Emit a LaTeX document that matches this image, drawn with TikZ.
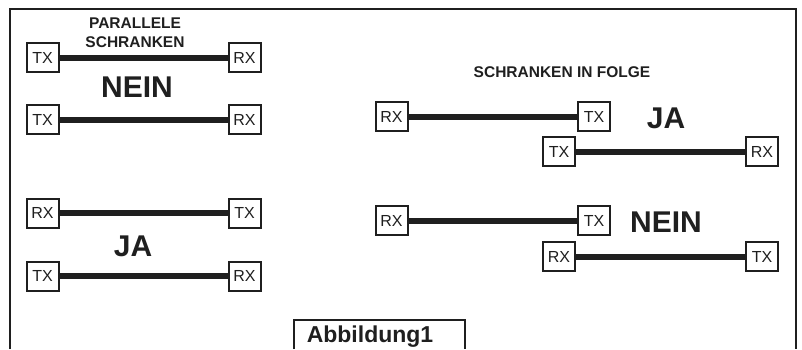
\documentclass[tikz,border=0pt]{standalone}
\usepackage{fontspec}
\setmainfont{Liberation Sans}
\begin{document}
\begin{tikzpicture}[x=1pt,y=-1pt,
  ink/.style={draw=black!88},
  unit/.style={ink,line width=2pt,fill=white,minimum width=32pt,minimum height=29pt,inner sep=0pt,font=\fontsize{16}{16}\selectfont,text=black!88},
  link/.style={draw=black!88,line width=6pt},
  big/.style={font=\bfseries\fontsize{30}{30}\selectfont,text=black!88},
  small/.style={font=\bfseries\fontsize{15.5}{19}\selectfont,text=black!88,align=center}]
\useasboundingbox (0,0) rectangle (802,349);
% frame
\draw[ink,line width=2pt] (10,349) -- (10,9) -- (796,9) -- (796,349);
% left top group
\node[small] (lt) at (135,33) {PARALLELE\\SCHRANKEN};
\node[unit] (a1) at (42.5,57.5) {TX};
\node[unit] (a2) at (244.5,57.5) {RX};
\node[unit] (b1) at (42.5,119.5) {TX};
\node[unit] (b2) at (244.5,119.5) {RX};
\node[big] (n1) at (137,87) {NEIN};
% left bottom group
\node[unit] (c1) at (42.5,213) {RX};
\node[unit] (c2) at (244.5,213) {TX};
\node[unit] (d1) at (42.5,276) {TX};
\node[unit] (d2) at (244.5,276) {RX};
\node[big] (j1) at (133,246) {JA};
% right top group
\node[small] (rt) at (562,72.5) {SCHRANKEN IN FOLGE};
\node[unit] (e1) at (391.5,116.5) {RX};
\node[unit] (e2) at (594,116.5) {TX};
\node[unit] (f1) at (559,151.5) {TX};
\node[unit] (f2) at (762,151.5) {RX};
\node[big] (j2) at (666,118) {JA};
% right bottom group
\node[unit] (g1) at (391.5,220.5) {RX};
\node[unit] (g2) at (594,220.5) {TX};
\node[unit] (h1) at (559,256.5) {RX};
\node[unit] (h2) at (762,256.5) {TX};
\node[big] (n2) at (666,222.5) {NEIN};
% links
\foreach \p/\q in {a1/a2,b1/b2,c1/c2,d1/d2,e1/e2,f1/f2,g1/g2,h1/h2}
  \draw[link] (\p.east) -- (\q.west);
% caption box
\draw[ink,line width=2pt] (294,349) -- (294,320) -- (465,320) -- (465,349);
\node[font=\bfseries\fontsize{23}{23}\selectfont,text=black!88,anchor=base] (cap) at (370,342) {Abbildung1};
\end{tikzpicture}
\end{document}
